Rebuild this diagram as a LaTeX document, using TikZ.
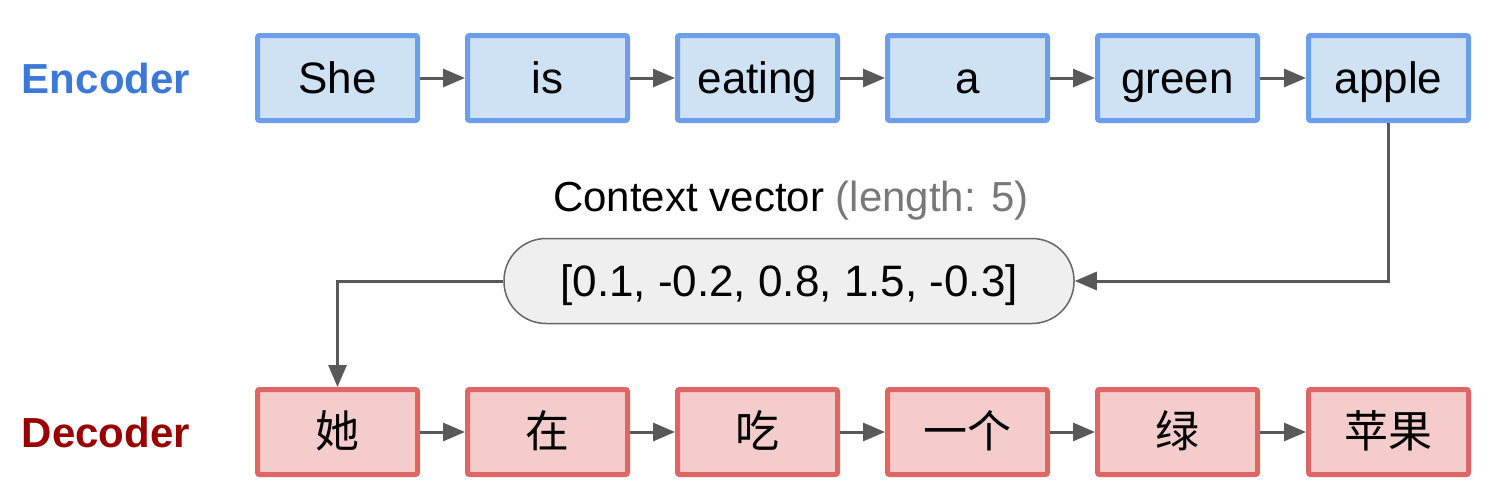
\documentclass[tikz,border=0pt]{standalone}
\usepackage{fontspec}
\setmainfont{Liberation Sans}
\newfontfamily\cjk{Noto Sans CJK SC}
\usetikzlibrary{arrows.meta}
\definecolor{encfill}{HTML}{CFE2F3}
\definecolor{encdraw}{HTML}{6D9EEB}
\definecolor{decfill}{HTML}{F4CCCC}
\definecolor{decdraw}{HTML}{E06666}
\definecolor{enclabel}{HTML}{3C78D8}
\definecolor{declabel}{HTML}{990000}
\definecolor{conn}{HTML}{595959}
\definecolor{pillfill}{HTML}{EFEFEF}
\definecolor{pilldraw}{HTML}{666666}
\definecolor{graytext}{HTML}{787878}
\tikzset{
  captext/.style={text height=15.8pt, text depth=0pt},
  wordbox/.style={rectangle, rounded corners=1pt, line width=2.5pt, inner sep=0pt,
    minimum width=80pt, minimum height=42.5pt, font=\fontsize{22}{26}\selectfont, captext},
  encbox/.style={wordbox, draw=encdraw, fill=encfill},
  decbox/.style={wordbox, draw=decdraw, fill=decfill, font=\fontsize{22}{26}\selectfont\cjk},
  seqlabel/.style={font=\fontsize{21}{25}\selectfont\bfseries, anchor=center, text height=15pt, text depth=0pt},
  link/.style={draw=conn, line width=1.5pt, -{Triangle[length=11pt,width=9pt]}},
  pill/.style={rectangle, rounded corners=21pt, draw=pilldraw, line width=0.75pt, fill=pillfill,
    minimum width=285pt, minimum height=42.5pt, inner sep=0pt, font=\fontsize{22}{26}\selectfont, captext}
}
\begin{document}
\begin{tikzpicture}[x=0.5pt,y=-0.5pt]
\useasboundingbox (0,0) rectangle (1493,493);
\fill[white] (0,0) rectangle (1493,493);
% labels
\node[seqlabel, text=enclabel] (enclab) at (106,78) {Encoder};
\node[seqlabel, text=declabel] (declab) at (106,432) {Decoder};
% encoder
\node[encbox] (e1) at (337.5,78) {She};
\node[encbox] (e2) at (547.5,78) {is};
\node[encbox] (e3) at (757.5,78) {eating};
\node[encbox] (e4) at (967.5,78) {a};
\node[encbox] (e5) at (1177.5,78) {green};
\node[encbox] (e6) at (1388.5,78) {apple};
% decoder
\node[decbox] (d1) at (337.5,432) {她};
\node[decbox] (d2) at (547.5,432) {在};
\node[decbox] (d3) at (757.5,432) {吃};
\node[decbox] (d4) at (967.5,432) {一个};
\node[decbox] (d5) at (1177.5,432) {绿};
\node[decbox] (d6) at (1388.5,432) {苹果};
% context
\node[font=\fontsize{21}{25}\selectfont, text height=15pt, text depth=0pt] (ctx) at (791,196) {Context vector \textcolor{graytext}{(length: 5)}};
\node[pill] (vec) at (789,281) {[0.1, -0.2, 0.8, 1.5, -0.3]};
% connectors
\foreach \a/\b in {e1/e2,e2/e3,e3/e4,e4/e5,e5/e6,d1/d2,d2/d3,d3/d4,d4/d5,d5/d6}
  \draw[link] (\a.east) -- (\b.west);
\draw[link] (e6.south) |- (vec.east);
\draw[link] (vec.west) -| (d1.north);
\end{tikzpicture}
\end{document}
